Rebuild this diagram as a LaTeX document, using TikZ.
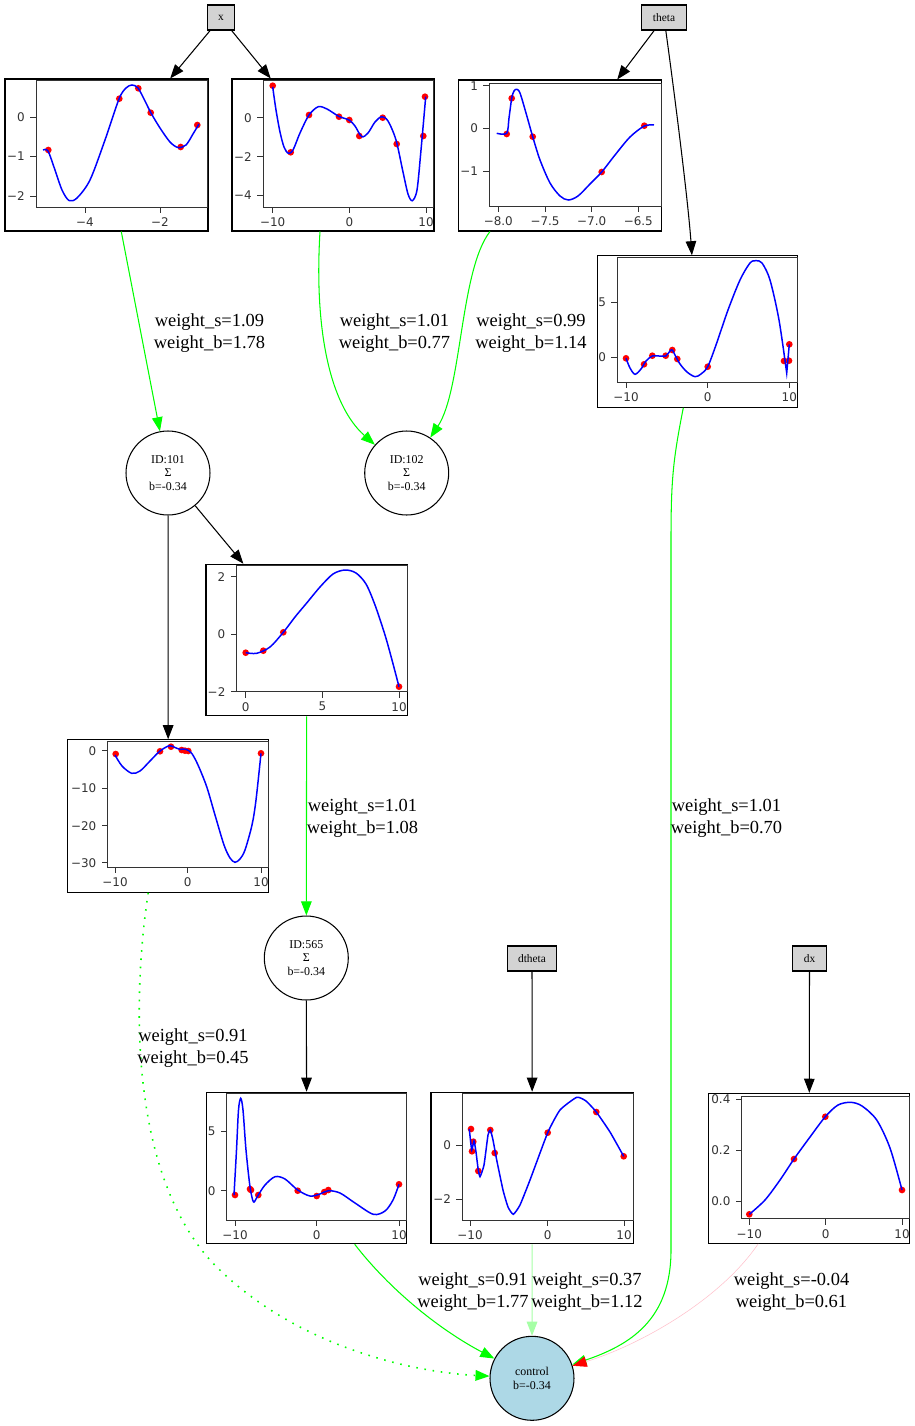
\documentclass[tikz,border=0pt]{standalone}
\usepackage{fontspec}
\setmainfont{Liberation Serif}
\newfontfamily\plotfont{DejaVu Sans}
\usepackage{tikz}
\usetikzlibrary{calc,arrows.meta}
\definecolor{boxgray}{RGB}{211,211,211}
\definecolor{lightblue}{RGB}{173,216,230}
\definecolor{softpink}{RGB}{255,192,203}

\begin{document}
\begin{tikzpicture}[x=0.02cm,y=-0.02cm,
  inbox/.style={rectangle,draw,line width=0.6pt,fill=boxgray,minimum height=0.5cm,inner xsep=0.22cm,inner ysep=0,font=\fontsize{6.5}{7.5}\selectfont},
  neuron/.style={circle,draw,line width=0.6pt,minimum size=1.68cm,inner sep=0,align=center,font=\fontsize{6.8}{7.8}\selectfont},
  outneuron/.style={neuron,fill=lightblue},
  plotframe/.style={rectangle,draw,line width=0.6pt,inner sep=0},
  spine/.style={draw=black!80,line width=0.45pt},
  ticklabel/.style={inner sep=0,font=\plotfont\fontsize{6.8}{8}\selectfont,text=black!80},
  curve/.style={draw=blue,line width=0.85pt},
  dot/.style={fill=red},
  wlabel/.style={align=center,inner sep=0,font=\fontsize{10.5}{12.3}\selectfont},
  link/.style={draw=black,line width=0.6pt,-{Triangle[length=8pt,width=6pt]}},
  goodlink/.style={draw=green,line width=0.6pt,-{Triangle[length=8pt,width=6pt]}},
  weaklink/.style={draw=green!35,line width=0.6pt,-{Triangle[length=8pt,width=6pt]}},
  dottedlink/.style={goodlink,line width=0.9pt,dash pattern=on 0.9pt off 3.8pt},
  badlink/.style={draw=softpink,line width=0.3pt,-{Triangle[length=8pt,width=6pt,color=red,fill=red]}}
]
\fill[white] (0,0) rectangle (915,1426);
\useasboundingbox (0,0) rectangle (915,1426);

% inputs
\node[inbox] (x) at (221,17.5) {x};
\node[inbox] (theta) at (664,17.5) {theta};
\node[inbox] (dtheta) at (532,958.5) {dtheta};
\node[inbox] (dx) at (809.5,958.5) {dx};

% neurons
\node[neuron] (id101) at (168,473) {ID:101\\Σ\\b=-0.34};
\node[neuron] (id102) at (406.7,473) {ID:102\\Σ\\b=-0.34};
\node[neuron] (id565) at (306.3,958) {ID:565\\Σ\\b=-0.34};
\node[outneuron] (control) at (532,1378.3) {control\\b=-0.34};

% plot frames
\node[plotframe,minimum width=4.06cm,minimum height=3.04cm] (p1) at (106.5,155) {};
\node[plotframe,minimum width=4.04cm,minimum height=3.04cm] (p2) at (333,155) {};
\node[plotframe,minimum width=4.07cm,minimum height=3.02cm] (p3) at (560,155.5) {};
\node[plotframe,minimum width=4.0cm,minimum height=3.03cm] (p4) at (697.3,331.5) {};
\node[plotframe,minimum width=4.03cm,minimum height=3.03cm] (p5) at (306.7,640) {};
\node[plotframe,minimum width=4.03cm,minimum height=3.05cm] (p6) at (168.2,816) {};
\node[plotframe,minimum width=4.0cm,minimum height=3.03cm] (p7) at (306.7,1168) {};
\node[plotframe,minimum width=4.05cm,minimum height=3.03cm] (p8) at (532.2,1168) {};
\node[plotframe,minimum width=4.03cm,minimum height=3.0cm] (p9) at (809.2,1168.3) {};

% plot p1
\draw[spine] (36,80) rectangle (207,207);
\foreach \u/\t [count=\i] in {85/−4,160/−2}
  {\draw[spine] (\u,207) -- ++(0,6); \node[ticklabel] (p1xt\i) at (\u,222) {\t};}
\foreach \v/\t [count=\i] in {117/0,156/−1,196/−2}
  {\draw[spine] (36,\v) -- ++(-6,0); \node[ticklabel,anchor=east] (p1yt\i) at (25,\v) {\t};}
\foreach \p in {(48.3,150),(119.3,98.7),(138.3,88.3),(150.7,112.7),(180.7,147),(197.3,125)}
  \fill[dot] \p circle (1.9pt);
\draw[curve] plot[smooth,tension=0.5] coordinates {(43,150) (48,151) (55,170) (62,190) (69,200.5) (77,198) (90,180) (105,140) (119,99) (126,88) (132,85) (138,88) (145,101) (151,113) (160,128) (170,142) (178,147.5) (186,145) (193,134) (199,124)};

% plot p2
\draw[spine] (263,80) rectangle (433,207);
\foreach \u/\t [count=\i] in {272.7/−10,349.3/0,426/10}
  {\draw[spine] (\u,207) -- ++(0,6); \node[ticklabel] (p2xt\i) at (\u,222) {\t};}
\foreach \v/\t [count=\i] in {117.7/0,156.7/−2,195/−4}
  {\draw[spine] (263,\v) -- ++(-6,0); \node[ticklabel,anchor=east] (p2yt\i) at (252,\v) {\t};}
\foreach \p in {(272.7,85.7),(290.7,152.3),(309,115),(339,116.7),(349.3,120),(359.3,136),(382.7,117.7),(396.7,144),(423.3,136),(425,96.7)}
  \fill[dot] \p circle (1.9pt);
\draw[curve] plot[smooth,tension=0.5] coordinates {(272.7,87) (276,110) (280,132) (284,147) (288.3,153.3) (293,150) (300,133) (309,115) (318.3,106.7) (327,109) (339,116.5) (349,120) (355,126) (361.7,136.7) (368,133) (375,122) (381.7,116.7) (388,121) (396,140) (403,172) (408,194) (412.3,200.7) (417,190) (421,150) (425.7,96.7)};

% plot p3
\draw[spine] (489.3,83.3) rectangle (661,206);
\foreach \u/\t [count=\i] in {498.3/−8.0,545/−7.5,591.7/−7.0,638.3/−6.5}
  {\draw[spine] (\u,206) -- ++(0,6); \node[ticklabel] (p3xt\i) at (\u,221) {\t};}
\foreach \v/\t [count=\i] in {85.7/1,128/0,171.3/−1}
  {\draw[spine] (489.3,\v) -- ++(-6,0); \node[ticklabel,anchor=east] (p3yt\i) at (478.3,\v) {\t};}
\foreach \p in {(506.7,134),(511.7,98.3),(532.7,136.7),(601.7,172),(644.3,125.7)}
  \fill[dot] \p circle (1.9pt);
\draw[curve] plot[smooth,tension=0.5] coordinates {(496.7,133.3) (506.7,133.3) (509,118) (511.7,98.3) (514,91) (516.7,89.3) (520,93) (526,113) (532.7,136.7) (540,160) (550,183) (560,196) (568.3,200) (578,196) (590,184) (601.7,172) (615,155) (630,137) (644.3,126) (654,125)};

% plot p4
\draw[spine] (617.3,257) rectangle (797,382.3);
\foreach \u/\t [count=\i] in {626/−10,707.7/0,789.3/10}
  {\draw[spine] (\u,382.3) -- ++(0,6); \node[ticklabel] (p4xt\i) at (\u,397.3) {\t};}
\foreach \v/\t [count=\i] in {302.3/5,357.3/0}
  {\draw[spine] (617.3,\v) -- ++(-6,0); \node[ticklabel,anchor=east] (p4yt\i) at (606.3,\v) {\t};}
\foreach \p in {(626,358.3),(644,364.3),(652.3,355.7),(665.7,355.7),(672.3,350),(677.3,359),(707.7,366.7),(784,361),(789,360.7),(789.3,344.3)}
  \fill[dot] \p circle (1.9pt);
\draw[curve] plot[smooth,tension=0.5] coordinates {(626,358.3) (630,368) (635,374.3) (641,369) (646,361) (652.3,356) (659,356) (665.7,356) (670,351) (672.3,350) (675,355) (680,364) (687,372) (695,376.7) (701,374) (707.7,366.7) (716,345) (728,310) (740,280) (750,263) (756,260.7) (762,263) (770,280) (779,320) (786.7,373)} -- (789.3,344.3);

% plot p5
\draw[spine] (236.7,565) rectangle (407,691.7);
\foreach \u/\t [count=\i] in {245.7/0,322.3/5,399/10}
  {\draw[spine] (\u,691.7) -- ++(0,6); \node[ticklabel] (p5xt\i) at (\u,706.7) {\t};}
\foreach \v/\t [count=\i] in {576.7/2,634.3/0,691.7/−2}
  {\draw[spine] (236.7,\v) -- ++(-6,0); \node[ticklabel,anchor=east] (p5yt\i) at (225.7,\v) {\t};}
\foreach \p in {(245.7,652.7),(263.3,650.7),(283.3,632.3),(399,686.7)}
  \fill[dot] \p circle (1.9pt);
\draw[curve] plot[smooth,tension=0.5] coordinates {(245.7,652.7) (256.7,653.3) (270,647) (283.3,632.3) (295,617) (306.7,603) (320,587) (333,574) (345,570) (356,573) (366,584) (375,605) (385,635) (392,660) (399,686.7)};

% plot p6
\draw[spine] (107.7,741) rectangle (268,867.3);
\foreach \u/\t [count=\i] in {115/−10,187.7/0,261/10}
  {\draw[spine] (\u,867.3) -- ++(0,6); \node[ticklabel] (p6xt\i) at (\u,882.3) {\t};}
\foreach \v/\t [count=\i] in {750.7/0,788.3/−10,825.7/−20,862.7/−30}
  {\draw[spine] (107.7,\v) -- ++(-6,0); \node[ticklabel,anchor=east] (p6yt\i) at (96.7,\v) {\t};}
\foreach \p in {(115.7,754),(160,751.3),(171,746.7),(181.7,750),(185,750.7),(188.3,751),(261,753.3)}
  \fill[dot] \p circle (1.9pt);
\draw[curve] plot[smooth,tension=0.5] coordinates {(115,755) (122,766) (131.7,773.3) (140,771) (150,761) (160,751) (169.3,745.7) (175,747.5) (180,749.3) (186,749.3) (191.7,753.3) (198,765) (206.7,786.7) (215,815) (224,845) (230,858) (235,862.3) (240,859) (245,850) (252,825) (256,800) (261,753.3)};

% plot p7
\draw[spine] (226.7,1093) rectangle (406,1220);
\foreach \u/\t [count=\i] in {235/−10,316.7/0,399/10}
  {\draw[spine] (\u,1220) -- ++(0,6); \node[ticklabel] (p7xt\i) at (\u,1235) {\t};}
\foreach \v/\t [count=\i] in {1131.7/5,1190.7/0}
  {\draw[spine] (226.7,\v) -- ++(-6,0); \node[ticklabel,anchor=east] (p7yt\i) at (215.7,\v) {\t};}
\foreach \p in {(235,1195),(250,1189),(251,1190),(258.3,1195),(297.7,1190.7),(316.7,1196),(324.3,1192),(328.3,1190),(399,1184.3)}
  \fill[dot] \p circle (1.9pt);
\draw[curve] plot[smooth,tension=0.5] coordinates {(234,1195) (236.5,1150) (238.5,1110) (240.7,1098.3) (243,1110) (246,1150) (250,1186.7) (253.3,1201.7) (256,1199) (258.3,1195) (265,1185) (275,1176.7) (285,1179) (297.7,1190) (310,1196) (320,1194) (328.3,1190.7) (340,1193) (355,1203) (373.3,1214.3) (385,1211) (393,1200) (399,1184.3)};

% plot p8
\draw[spine] (462.3,1093) rectangle (633,1220);
\foreach \u/\t [count=\i] in {470/−10,547.7/0,624/10}
  {\draw[spine] (\u,1220) -- ++(0,6); \node[ticklabel] (p8xt\i) at (\u,1235) {\t};}
\foreach \v/\t [count=\i] in {1145/0,1199.3/−2}
  {\draw[spine] (462.3,\v) -- ++(-6,0); \node[ticklabel,anchor=east] (p8yt\i) at (451.3,\v) {\t};}
\foreach \p in {(471,1129),(473.3,1141.7),(472,1151.3),(478.3,1171),(490.3,1130),(494.7,1153),(547.7,1132.7),(596.3,1112),(623.7,1156.3)}
  \fill[dot] \p circle (1.9pt);
\draw[curve] plot[smooth,tension=0.3] coordinates {(469.3,1129) (471.7,1150) (474,1141) (476,1152) (478,1168) (480,1176.7) (484,1165) (488,1135) (490.3,1130) (493,1140) (496.7,1160) (503,1190) (508,1207) (513.3,1214.3) (520,1205) (530,1180) (547.7,1132.7) (560,1110) (576.7,1097.3) (586,1101) (596.3,1112) (610,1132) (623.7,1156.3)};

% plot p9
\draw[spine] (741.7,1096.7) rectangle (909,1218.7);
\foreach \u/\t [count=\i] in {749.3/−10,825.7/0,902/10}
  {\draw[spine] (\u,1218.7) -- ++(0,6); \node[ticklabel] (p9xt\i) at (\u,1233.7) {\t};}
\foreach \v/\t [count=\i] in {1099.3/0.4,1150/0.2,1201/0.0}
  {\draw[spine] (741.7,\v) -- ++(-6,0); \node[ticklabel,anchor=east] (p9yt\i) at (730.7,\v) {\t};}
\foreach \p in {(749.3,1214.3),(794,1159),(825.3,1116.7),(902,1190)}
  \fill[dot] \p circle (1.9pt);
\draw[curve] plot[smooth,tension=0.5] coordinates {(749.3,1214.3) (765,1200) (780,1180) (794,1159) (810,1137) (825.3,1116.7) (838,1105) (850.7,1102.3) (862,1106) (876.7,1120) (890,1148) (902,1190)};

% connectors
\draw[link] (x) -- (p1);
\draw[link] (x) -- (p2);
\draw[link] (theta) -- (p3);
\draw[link] (theta) .. controls (674,90) and (688,200) .. (p4);
\draw[link] (id101) -- (p5);
\draw[link] (id101) -- (p6);
\draw[link] (id565) -- (p7);
\draw[link] (dtheta) -- (p8);
\draw[link] (dx) -- (p9);
\draw[goodlink] (p1) -- (id101);
\draw[goodlink] ($(p2.south)+(-13,0)$) .. controls (314,330) and (330,405) .. (id102);
\draw[goodlink] ($(p3.south)+(-70,0)$) .. controls (460,270) and (462,390) .. (id102);
\draw[goodlink] ($(p4.south)+(-14,0)$) .. controls (673,460) and (671,480) .. (671,540) -- (671,1250) .. controls (671,1320) and (630,1345) .. (control);
\draw[goodlink] (p5) -- (id565);
\draw[dottedlink] ($(p6.south)+(-20,0)$) .. controls (132,1000) and (130,1170) .. (210,1260) .. controls (290,1345) and (410,1372) .. (control);
\draw[goodlink] ($(p7.south)+(48,0)$) .. controls (390,1290) and (440,1330) .. (control);
\draw[weaklink] (p8) -- (control);
\draw[badlink] ($(p9.south)+(-51,0)$) .. controls (720,1300) and (640,1345) .. (control);

% weights
\node[wlabel] (w1) at (209.5,333) {weight\_s=1.09\\weight\_b=1.78};
\node[wlabel] (w2) at (394.5,333) {weight\_s=1.01\\weight\_b=0.77};
\node[wlabel] (w3) at (531,333) {weight\_s=0.99\\weight\_b=1.14};
\node[wlabel] (w4) at (362.5,818) {weight\_s=1.01\\weight\_b=1.08};
\node[wlabel] (w5) at (726.5,818) {weight\_s=1.01\\weight\_b=0.70};
\node[wlabel] (w6) at (193,1048) {weight\_s=0.91\\weight\_b=0.45};
\node[wlabel] (w7) at (473,1292) {weight\_s=0.91\\weight\_b=1.77};
\node[wlabel] (w8) at (587,1292) {weight\_s=0.37\\weight\_b=1.12};
\node[wlabel] (w9) at (791.5,1292) {weight\_s=-0.04\\weight\_b=0.61};
\end{tikzpicture}
\end{document}
